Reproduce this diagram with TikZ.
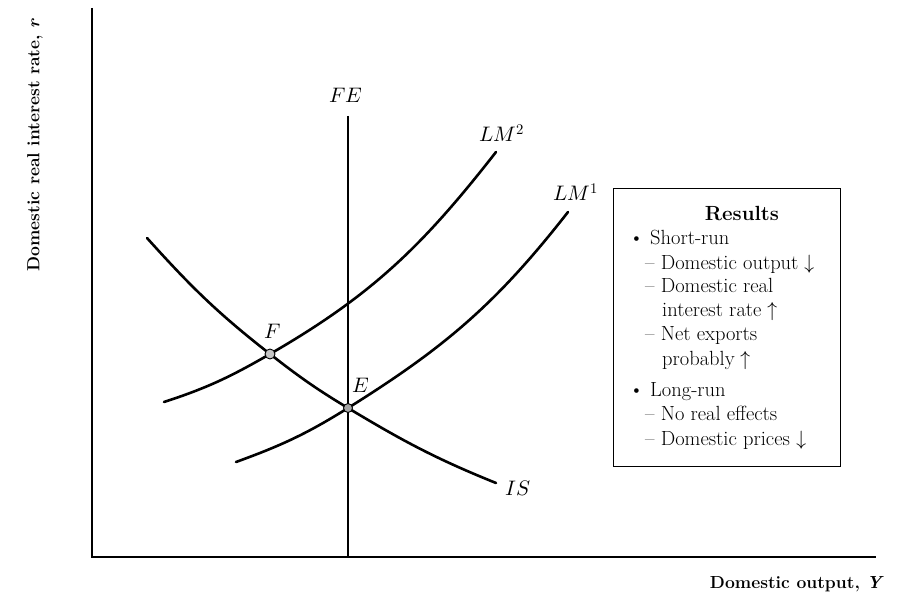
\documentclass[tikz,border=0pt]{standalone}
\usepackage{fontspec}
\usepackage{unicode-math}
\begin{document}
\begin{tikzpicture}[x=1pt,y=-1pt,
  curve/.style={line width=2.6pt,line cap=round},
  axis/.style={line width=1.2pt},
  lbl/.style={font=\fontsize{21}{24}\selectfont,inner sep=0pt},
  axlbl/.style={font=\fontsize{17.5}{20}\selectfont\bfseries,inner sep=0pt},
  boxtxt/.style={font=\fontsize{20.5}{24}\selectfont,inner sep=0pt,anchor=base west},
  pt/.style={circle,draw=black,line width=0.9pt,inner sep=0pt,minimum size=10pt}
]
\useasboundingbox (0,0) rectangle (901,599);
% axes
\coordinate (top) at (92,8);
\coordinate (O) at (92,557);
\coordinate (xend) at (876,557);
\draw[axis] (top) -- (O) -- (xend);
\node[axlbl,rotate=90] (ylab) at (35,145) {Domestic real interest rate, \textit{r}};
\node[axlbl,anchor=east] (xlab) at (884,584) {Domestic output, \textit{Y}};
% key points
\coordinate (F) at (270,354);
\coordinate (E) at (348,408);
% FE
\coordinate (fetop) at (348,116);
\coordinate (febot) at (348,557);
\draw[curve,line cap=butt] (fetop) -- (febot);
\node[lbl] (felab) at (346,95) {$FE$};
% IS
\coordinate (is0) at (147,238);
\coordinate (is1) at (496,483);
\draw[curve] (is0) to[out=-48,in=142] (F) to[out=-38,in=149] (E) to[out=-31,in=158] (is1);
\node[lbl] (islab) at (518,488) {$IS$};
% LM2
\coordinate (lmb0) at (164,402);
\coordinate (lmb1) at (496,152);
\draw[curve] (lmb0) to[out=18,in=210] (F) to[out=30,in=232] (lmb1);
\node[lbl] (lm2lab) at (502,133) {$LM^2$};
% LM1
\coordinate (lma0) at (236,462);
\coordinate (lma1) at (568,212);
\draw[curve] (lma0) to[out=20,in=212] (E) to[out=32,in=232] (lma1);
\node[lbl] (lm1lab) at (576,192) {$LM^1$};
% points
\node[pt,fill=gray!45] (Fpt) at (F) {};
\node[pt,fill=gray!70,minimum size=9pt] (Ept) at (E) {};
\node[lbl] (flab) at (273,331) {$F$};
\node[lbl] (elab) at (361,385) {$E$};
% results box
\node[draw,line width=1.3pt,minimum width=227pt,minimum height=278pt,inner sep=0pt,anchor=north west] (box) at (613,188) {};
\node[font=\fontsize{20.5}{24}\selectfont\bfseries,inner sep=0pt,anchor=base] (res) at (742,220) {Results};
\node[boxtxt] (b1) at (629,244) {\textbullet\ Short-run};
\node[boxtxt] (l1) at (645,269) {– Domestic output $\downarrow$};
\node[boxtxt] (l2) at (645,292) {– Domestic real};
\node[boxtxt] (l3) at (662,316) {interest rate $\uparrow$};
\node[boxtxt] (l4) at (645,340) {– Net exports};
\node[boxtxt] (l5) at (662,365) {probably $\uparrow$};
\node[boxtxt] (b2) at (629,396) {\textbullet\ Long-run};
\node[boxtxt] (l6) at (645,420) {– No real effects};
\node[boxtxt] (l7) at (645,445) {– Domestic prices $\downarrow$};
\end{tikzpicture}
\end{document}
